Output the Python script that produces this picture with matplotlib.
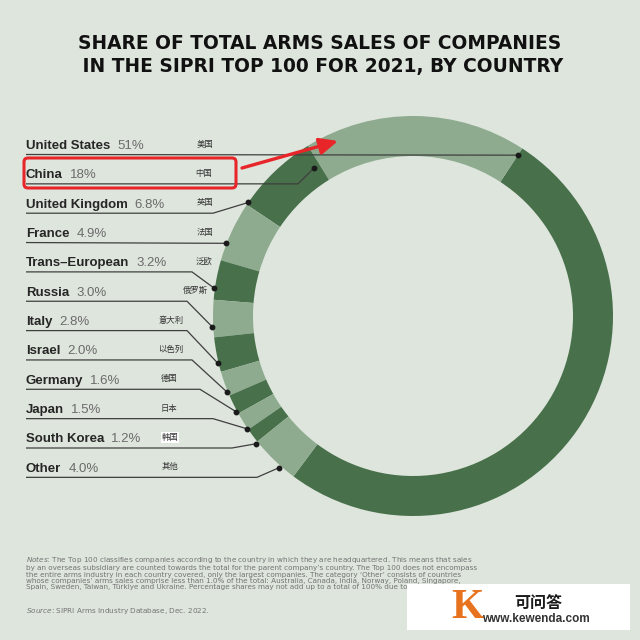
import numpy as np
import matplotlib
matplotlib.use('Agg')
import matplotlib.pyplot as plt
from matplotlib.patches import FancyBboxPatch, Rectangle

plt.rcParams['mathtext.fontset'] = 'dejavusans'

# data
COUNTRIES = ['United States', 'China', 'United Kingdom', 'France', 'Trans\u2013European',
             'Russia', 'Italy', 'Israel', 'Germany', 'Japan', 'South Korea', 'Other']
CN_NAMES = ['美国', '中国', '英国', '法国', '泛欧', '俄罗斯', '意大利', '以色列',
            '德国', '日本', '韩国', '其他']
SHARES = [51, 18, 6.8, 4.9, 3.2, 3.0, 2.8, 2.0, 1.6, 1.5, 1.2, 4.0]

TITLE = 'SHARE OF TOTAL ARMS SALES OF COMPANIES\n IN THE SIPRI TOP 100 FOR 2021, BY COUNTRY'
NOTES = [
    r'$\mathit{Notes}$: The Top 100 classifies companies according to the country in which they are headquartered. This means that sales',
    'by an overseas subsidiary are counted towards the total for the parent company\u2019s country. The Top 100 does not encompass',
    'the entire arms industry in each country covered, only the largest companies. The category \u2018Other\u2019 consists of countries',
    'whose companies\u2019 arms sales comprise less than 1.0% of the total: Australia, Canada, India, Norway, Poland, Singapore,',
    'Spain, Sweden, Taiwan, T\u00fcrkiye and Ukraine. Percentage shares may not add up to a total of 100% due to the conventions of rounding.',
]
SOURCE = r'$\mathit{Source}$: SIPRI Arms Industry Database, Dec. 2022.'

# layout (pixel coordinates, y downward)
BG = '#dde5dc'
DARK = '#48704a'
LIGHT = '#8fab8f'
CX, CY, R_OUT, RING = 413, 316, 200, 40
ROW_Y0, ROW_DY = 146, 29.35
KNEE_X = [None, 298, 213, None, 192, 187, 187, 192, 200, 213, 232, 257]
DOT_ANG = [33.1, -33.8, -55.4, -68.8, -82.0, -93.1, -103.5, -112.2, -118.5, -124.1, -129.2, -138.6]
DOT_R = [192, 178, 200, 201, 201, 201, 201, 201, 201, 201, 202, 202]
CN_X = [205, 204, 205, 205, 204, 195, 171, 171, 169, 169, 170, 170]
US_START = 33.1   # clockwise from top
NOTE_FS = 5.2


def pct(v):
    return f'{v:.0f}%' if v >= 10 else f'{v:.1f}%'


fig = plt.figure(figsize=(6.4, 6.4), dpi=100)
fig.patch.set_facecolor(BG)
ax = fig.add_axes([0, 0, 1, 1])
ax.set_facecolor(BG)

# donut (y axis inverted -> data clockwise = screen counter-clockwise)
start = US_START + 360 * SHARES[0] / sum(SHARES)
colors = [DARK if i % 2 == 0 else LIGHT for i in range(len(SHARES))]
ax.pie(SHARES, colors=colors, startangle=start - 90, counterclock=False,
       center=(CX, CY), radius=R_OUT,
       wedgeprops=dict(width=RING, linewidth=0))
ax.set_xlim(0, 640)
ax.set_ylim(640, 0)
ax.set_aspect('equal')
ax.axis('off')

# title
ax.text(320, 55, TITLE, ha='center', va='center', fontsize=13.4, fontweight='bold',
        color='#111111', family='DejaVu Sans', linespacing=1.3)

# labels and leader lines
for i, (name, cn, v) in enumerate(zip(COUNTRIES, CN_NAMES, SHARES)):
    y = ROW_Y0 + i * ROW_DY
    t = ax.text(26, y, name, ha='left', va='center', fontsize=9.5, fontweight='bold',
                color='#262626', family='Liberation Sans')
    ax.annotate(pct(v), xy=(1, 0), xycoords=t, xytext=(5, 0), textcoords='offset points',
                ha='left', va='bottom', fontsize=9.5, color='#6b6b6b', family='Liberation Sans')
    kw = dict(fontsize=6, color='#333333', ha='center', va='center',
              family=['Noto Sans CJK SC', 'DejaVu Sans'])
    if cn == '韩国':
        kw['bbox'] = dict(facecolor='white', edgecolor='none', pad=0.5)
    ax.text(CN_X[i], y - 2, cn, **kw)

    yu = y + 8.5
    a = np.radians(DOT_ANG[i])
    dx, dy = CX + DOT_R[i] * np.sin(a), CY - DOT_R[i] * np.cos(a)
    if KNEE_X[i] is None:
        xs, ys = [26, dx], [yu, dy]
    else:
        xs, ys = [26, KNEE_X[i], dx], [yu, yu, dy]
    ax.plot(xs, ys, color='#3f3f3f', lw=0.9, zorder=4, solid_capstyle='butt')
    ax.plot(dx, dy, 'o', color='#1a1a1a', ms=3.2, zorder=5)

# red highlight box and arrow
ax.add_patch(FancyBboxPatch((24, 158), 212, 30, boxstyle='round,pad=0,rounding_size=4',
                            facecolor='none', edgecolor='#e8262a', lw=2.2, zorder=6))
ax.annotate('', xy=(338, 141), xytext=(242, 168),
            arrowprops=dict(arrowstyle='-|>,head_length=1.1,head_width=0.5',
                            color='#e8262a', lw=2.4, shrinkA=0, shrinkB=0), zorder=6)

# notes
ax.text(26, 554, '\n'.join(NOTES), ha='left', va='top', fontsize=NOTE_FS,
        color='#747474', family='DejaVu Sans', linespacing=1.05)
ax.text(26, 611, SOURCE, ha='left', va='center', fontsize=NOTE_FS,
        color='#747474', family='DejaVu Sans')

# watermark
ax.add_patch(Rectangle((407, 584), 223, 46, facecolor='white', edgecolor='none', zorder=10))
ax.text(467, 608, 'K', ha='center', va='center', fontsize=30, fontweight='bold',
        color='#e8731e', family='Liberation Serif', zorder=11)
ax.text(538, 603, '可问答', ha='center', va='center', fontsize=11.5, fontweight='bold',
        color='#1a1a1a', family=['Noto Sans CJK SC', 'DejaVu Sans'], zorder=11)
ax.text(536, 619, 'www.kewenda.com', ha='center', va='center', fontsize=8.5, fontweight='bold',
        color='#333333', family='Liberation Sans', zorder=11)

fig.savefig('out.png', dpi=100, facecolor=BG)
